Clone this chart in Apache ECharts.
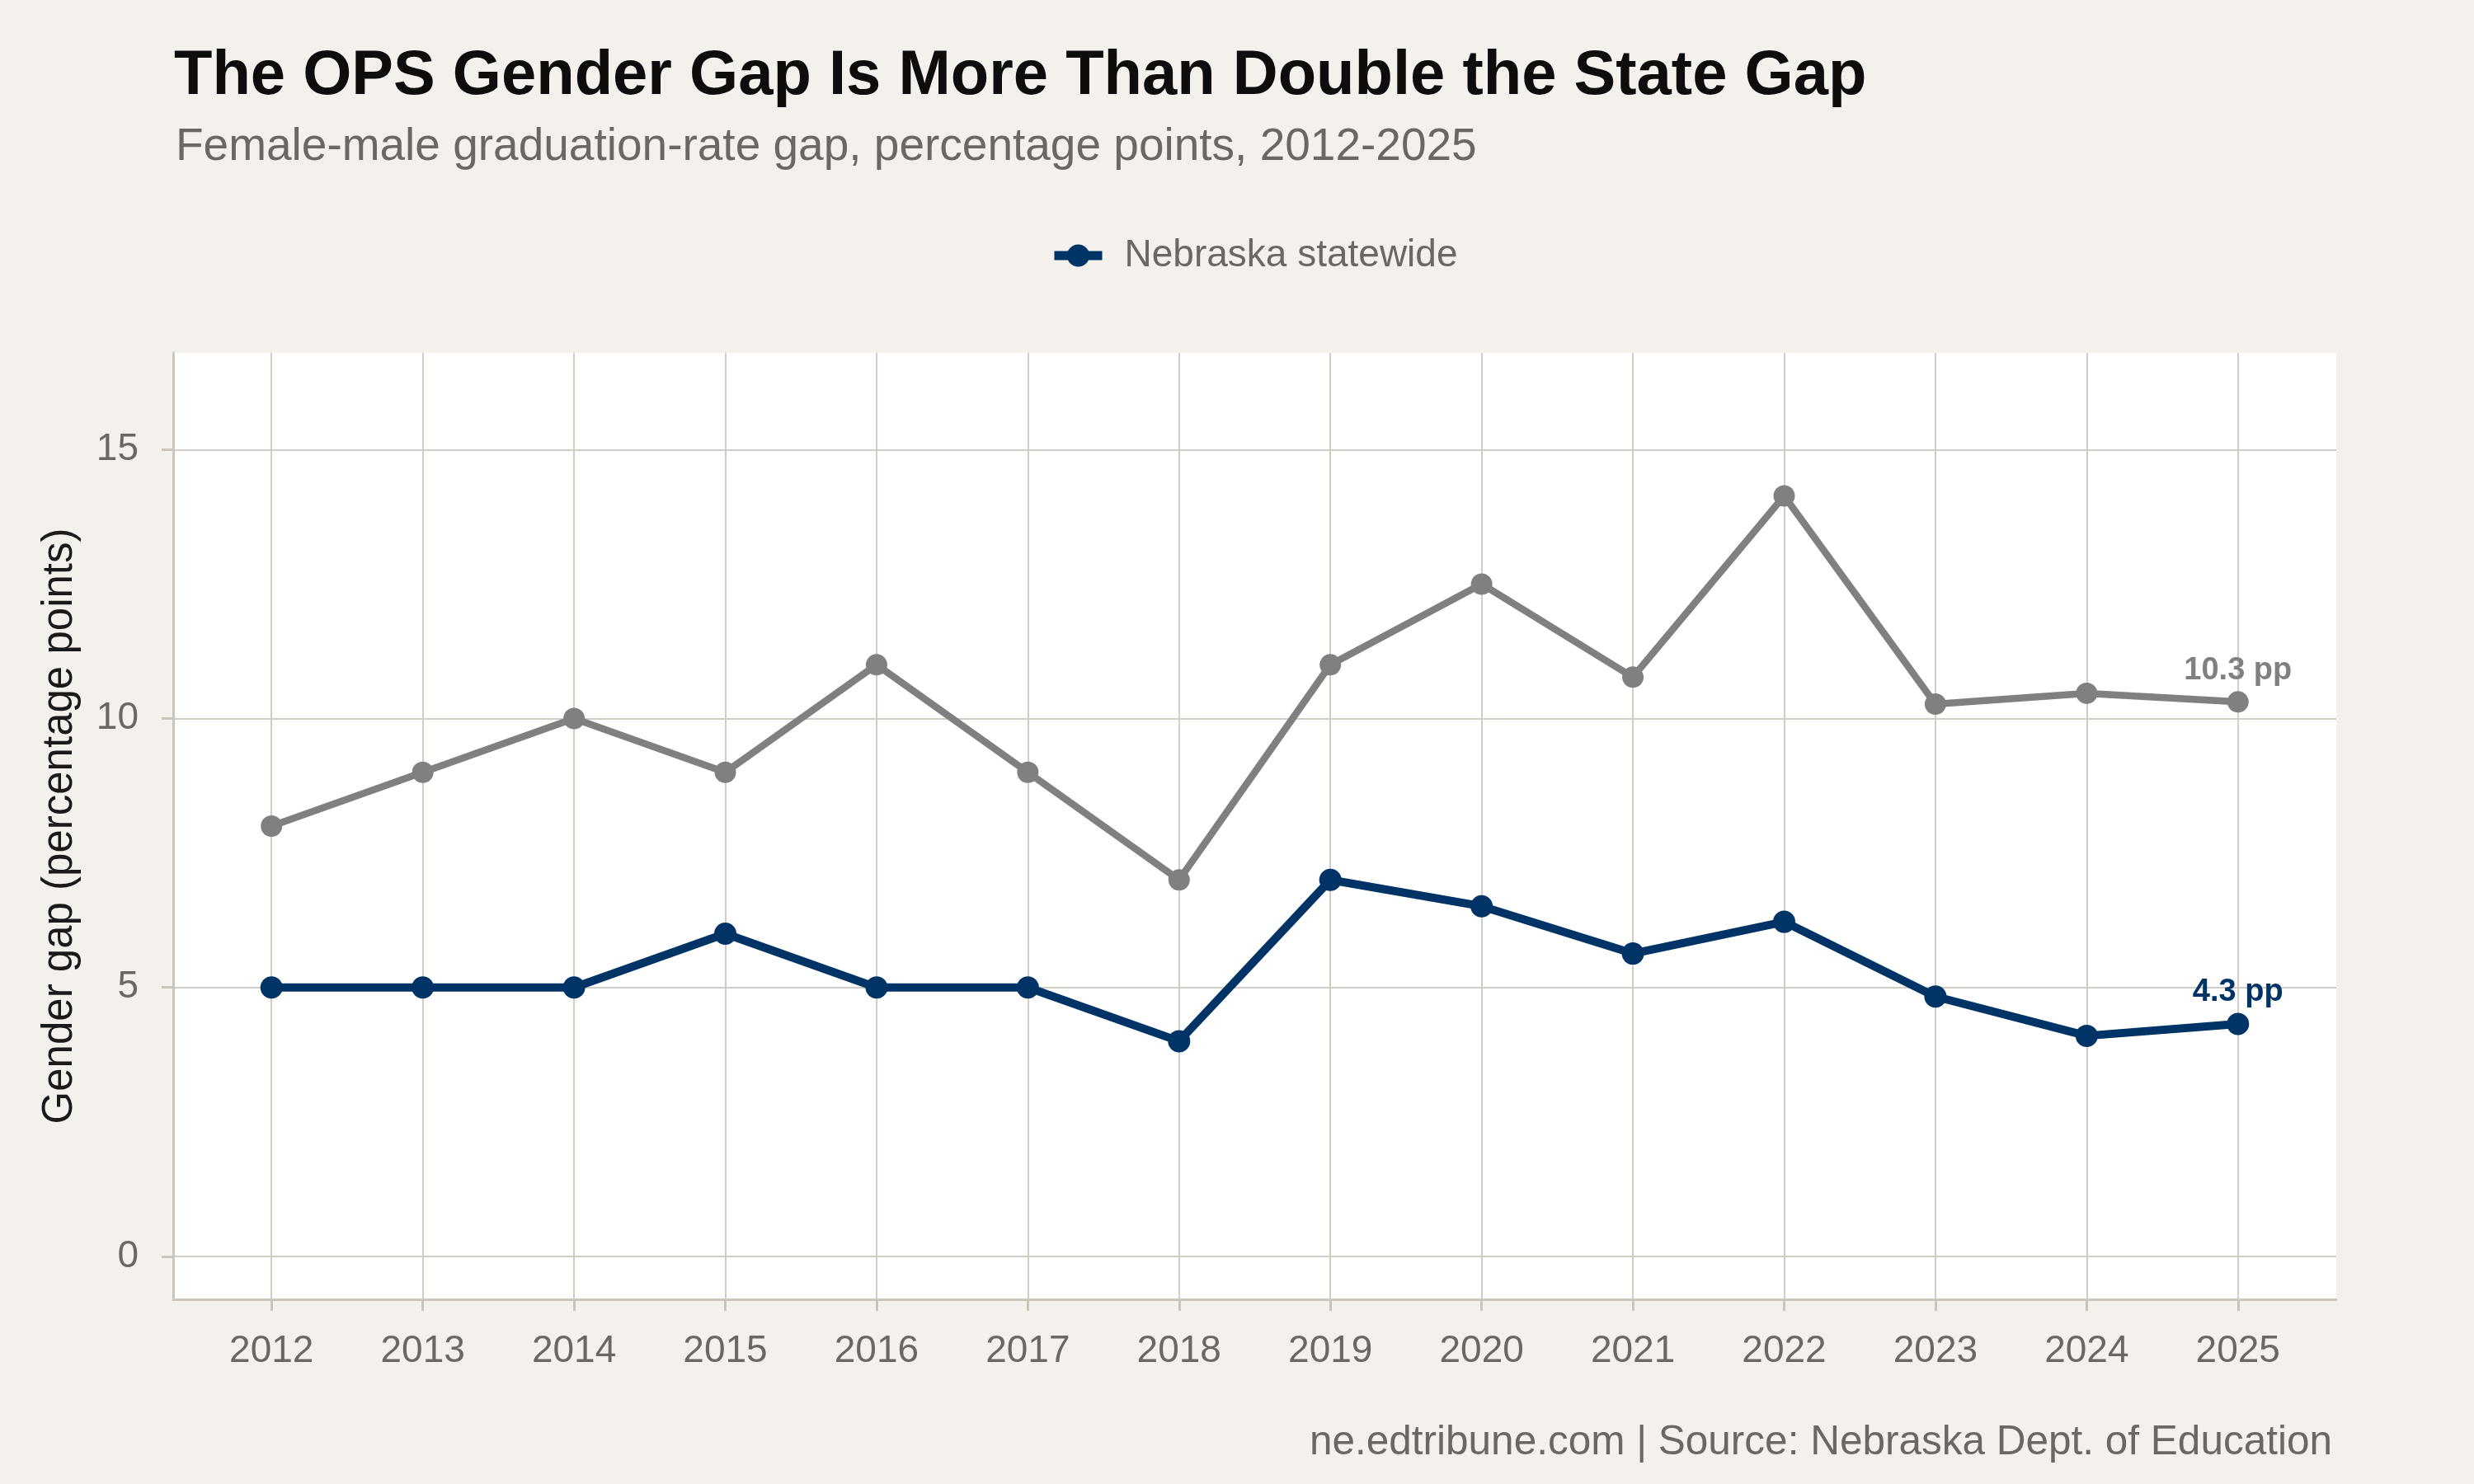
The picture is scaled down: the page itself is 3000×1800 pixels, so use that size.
<!DOCTYPE html>
<html>
<head>
<meta charset="utf-8">
<style>
  html, body { margin: 0; padding: 0; background: #f4f1ec; }
  #chart { width: 3000px; height: 1800px; }
</style>
</head>
<body>
<div id="chart"></div>
<script src="https://cdn.jsdelivr.net/npm/echarts@6/dist/echarts.min.js"></script>
<script>
// years on the x axis
var years = [2012, 2013, 2014, 2015, 2016, 2017, 2018, 2019, 2020, 2021, 2022, 2023, 2024, 2025];
// OPS gap (gray)
var opsGap = [8, 9, 10, 9, 11, 9, 7, 11, 12.5, 10.77, 14.14, 10.27, 10.47, 10.31];
// Nebraska statewide gap (navy)
var stateGap = [5, 5, 5, 6, 5, 5, 4, 7, 6.51, 5.63, 6.22, 4.83, 4.1, 4.32];
// y tick labels
var yTicks = [0, 5, 10, 15];

var FONT = '"Liberation Sans", Arial, Helvetica, sans-serif';
var NAVY = '#003366';
var GRAY = '#808080';
var TEXT_GRAY = '#6b6762';
var GRID = '#d1ccc4';
var AXIS = '#cbc5bb';

function toPoints(vals, color) {
    return years.map(function(y, i) {
        var item = { value: [y, vals[i]] };
        if (i === years.length - 1) {
            item.label = {
                show: true,
                position: 'top',
                distance: 6,
                color: color,
                fontFamily: FONT,
                fontWeight: 'bold',
                fontSize: 38,
                formatter: function(p) { return p.value[1].toFixed(1) + ' pp'; }
            };
        }
        return item;
    });
}

var chart = echarts.init(document.getElementById('chart'));

var option = {
    backgroundColor: '#f4f1ec',
    animation: false,
    title: [{
        text: 'The OPS Gender Gap Is More Than Double the State Gap',
        left: 206,
        top: 50,
        textStyle: { fontFamily: FONT, fontWeight: 'bold', fontSize: 76, color: '#0d0d0d' }
    }, {
        text: 'Female-male graduation-rate gap, percentage points, 2012-2025',
        left: 208,
        top: 146,
        textStyle: { fontFamily: FONT, fontWeight: 'normal', fontSize: 55, color: TEXT_GRAY }
    }, {
        text: 'ne.edtribune.com | Source: Nebraska Dept. of Education',
        right: 167,
        top: 1720,
        textStyle: { fontFamily: FONT, fontWeight: 'normal', fontSize: 49.5, color: TEXT_GRAY }
    }],
    legend: {
        data: ['Nebraska statewide'],
        left: 1268,
        top: 282,
        itemWidth: 58,
        itemHeight: 34,
        itemGap: 40,
        lineStyle: { width: 11 },
        textStyle: { fontFamily: FONT, fontSize: 46, color: TEXT_GRAY, padding: [0, 0, 0, 22] }
    },
    grid: {
        left: 210,
        right: 167,
        top: 428,
        bottom: 224,
        show: true,
        backgroundColor: '#ffffff',
        borderWidth: 0
    },
    xAxis: {
        type: 'value',
        min: 2011.35,
        max: 2025.65,
        axisLine: { show: true, onZero: false, lineStyle: { color: AXIS, width: 3 } },
        axisTick: { show: true, length: 14, customValues: years, lineStyle: { color: AXIS, width: 3 } },
        axisLabel: {
            customValues: years,
            margin: 40,
            fontFamily: FONT,
            fontSize: 46,
            color: TEXT_GRAY,
            formatter: function(v) { return String(v); }
        },
        splitLine: { show: true, lineStyle: { color: GRID, width: 2 } }
    },
    yAxis: {
        type: 'value',
        min: -0.8,
        max: 16.8,
        name: 'Gender gap (percentage points)',
        nameLocation: 'middle',
        nameRotate: 90,
        nameGap: 112,
        nameTextStyle: { fontFamily: FONT, fontSize: 51, color: '#1a1a1a' },
        axisLine: { show: true, onZero: false, lineStyle: { color: AXIS, width: 3 } },
        axisTick: { show: true, length: 14, customValues: yTicks, lineStyle: { color: AXIS, width: 3 } },
        axisLabel: {
            customValues: yTicks,
            margin: 42,
            fontFamily: FONT,
            fontSize: 46,
            color: TEXT_GRAY
        },
        splitLine: { show: true, lineStyle: { color: GRID, width: 2 } }
    },
    series: [{
        name: 'OPS',
        type: 'line',
        symbol: 'circle',
        symbolSize: 26,
        itemStyle: { color: GRAY },
        lineStyle: { color: GRAY, width: 8.5 },
        data: toPoints(opsGap, GRAY)
    }, {
        name: 'Nebraska statewide',
        type: 'line',
        symbol: 'circle',
        symbolSize: 27,
        itemStyle: { color: NAVY },
        lineStyle: { color: NAVY, width: 10 },
        data: toPoints(stateGap, NAVY)
    }]
};
chart.setOption(option);
</script>
</body>
</html>
